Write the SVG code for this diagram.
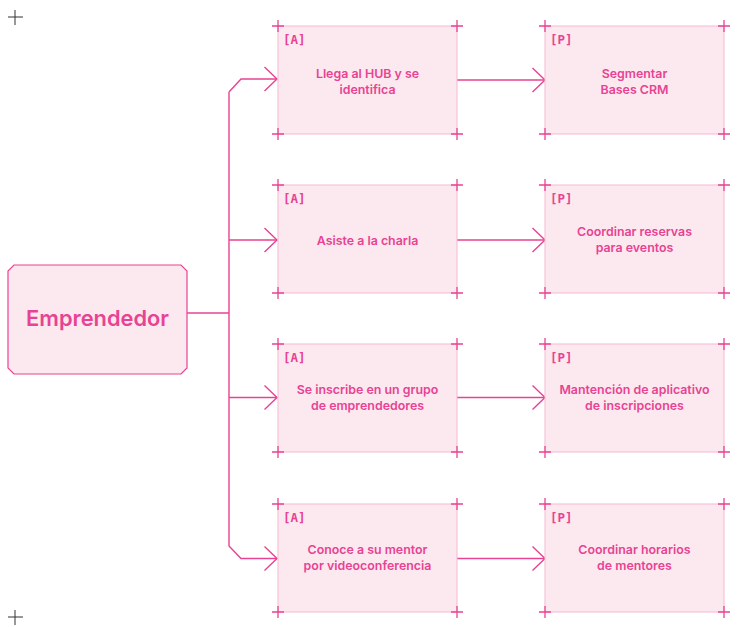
<svg xmlns="http://www.w3.org/2000/svg" width="738" height="627" viewBox="0 0 738 627">
  <style>
    .box { fill: #fce8ef; stroke: #f6b9d1; stroke-width: 1; }
    .actor { fill: #fce8ef; stroke: #e84393; stroke-width: 1.2; }
    .tick { stroke: #e84393; stroke-width: 1.3; fill: none; }
    .reg { stroke: #333; stroke-width: 1; fill: none; }
    .wire { stroke: #e84393; stroke-width: 1.4; fill: none; }
    .tag { font-family: "DejaVu Sans Mono", monospace; font-weight: bold; font-size: 12.5px; fill: #e84393; }
    .txt { font-family: Inter, "Liberation Sans", sans-serif; font-weight: 600; font-size: 12.4px; fill: #e84393; text-anchor: middle; }
    .big { font-family: Inter, "Liberation Sans", sans-serif; font-weight: 600; font-size: 21.8px; fill: #e84393; text-anchor: middle; }
  </style>
  <defs>
    <path id="plus" class="tick" d="M-6 0H6M0 -6V6"/>
    <g id="card">
      <rect class="box" x="0" y="0" width="179" height="108"/>
      <use href="#plus" x="0" y="0"/>
      <use href="#plus" x="179" y="0"/>
      <use href="#plus" x="0" y="108"/>
      <use href="#plus" x="179" y="108"/>
    </g>
  </defs>

  <!-- registration marks -->
  <path class="reg" d="M8 17H23M15 10V25"/>
  <path class="reg" d="M8 617H23M15 610V625"/>

  <!-- connectors -->
  <g id="connectors">
    <path class="wire" d="M187 313H229"/>
    <path class="wire" d="M229 92V546L241 558.5H277M229 92L241 79H277M229 240H277M229 397.5H277"/>
    <path class="wire" d="M264.5 67L277 79L264.5 91M264.5 228L277 240L264.5 252M264.5 385.5L277 397.5L264.5 409.5M264.5 546.5L277 558.5L264.5 570.5"/>
    <path class="wire" d="M457 80H545M457 240H545M457 397.5H545M457 558.5H545"/>
    <path class="wire" d="M532.5 68L545 80L532.5 92M532.5 228L545 240L532.5 252M532.5 385.5L545 397.5L532.5 409.5M532.5 546.5L545 558.5L532.5 570.5"/>
  </g>

  <g id="emprendedor">
    <path class="actor" d="M14 265H181L187 271V368L181 374H14L8 368V271Z"/>
    <text class="big" x="97.5" y="325.5">Emprendedor</text>
  </g>

  <g id="a1">
    <use href="#card" x="278" y="26"/>
    <text class="tag" x="283" y="43.5">[A]</text>
    <text class="txt" x="367.5" y="77.5">Llega al HUB y se</text>
    <text class="txt" x="367.5" y="94">identifica</text>
  </g>
  <g id="p1">
    <use href="#card" x="545" y="26"/>
    <text class="tag" x="550" y="43.5">[P]</text>
    <text class="txt" x="634.5" y="77.5">Segmentar</text>
    <text class="txt" x="634.5" y="94">Bases CRM</text>
  </g>

  <g id="a2">
    <use href="#card" x="278" y="185"/>
    <text class="tag" x="283" y="202.5">[A]</text>
    <text class="txt" x="367.5" y="244.5">Asiste a la charla</text>
  </g>
  <g id="p2">
    <use href="#card" x="545" y="185"/>
    <text class="tag" x="550" y="202.5">[P]</text>
    <text class="txt" x="634.5" y="236">Coordinar reservas</text>
    <text class="txt" x="634.5" y="252">para eventos</text>
  </g>

  <g id="a3">
    <use href="#card" x="278" y="344"/>
    <text class="tag" x="283" y="361.5">[A]</text>
    <text class="txt" x="367.5" y="394">Se inscribe en un grupo</text>
    <text class="txt" x="367.5" y="410">de emprendedores</text>
  </g>
  <g id="p3">
    <use href="#card" x="545" y="344"/>
    <text class="tag" x="550" y="361.5">[P]</text>
    <text class="txt" x="634.5" y="394">Mantención de aplicativo</text>
    <text class="txt" x="634.5" y="410">de inscripciones</text>
  </g>

  <g id="a4">
    <use href="#card" x="278" y="504"/>
    <text class="tag" x="283" y="521.5">[A]</text>
    <text class="txt" x="367.5" y="554">Conoce a su mentor</text>
    <text class="txt" x="367.5" y="570">por videoconferencia</text>
  </g>
  <g id="p4">
    <use href="#card" x="545" y="504"/>
    <text class="tag" x="550" y="521.5">[P]</text>
    <text class="txt" x="634.5" y="554">Coordinar horarios</text>
    <text class="txt" x="634.5" y="570">de mentores</text>
  </g>
</svg>
